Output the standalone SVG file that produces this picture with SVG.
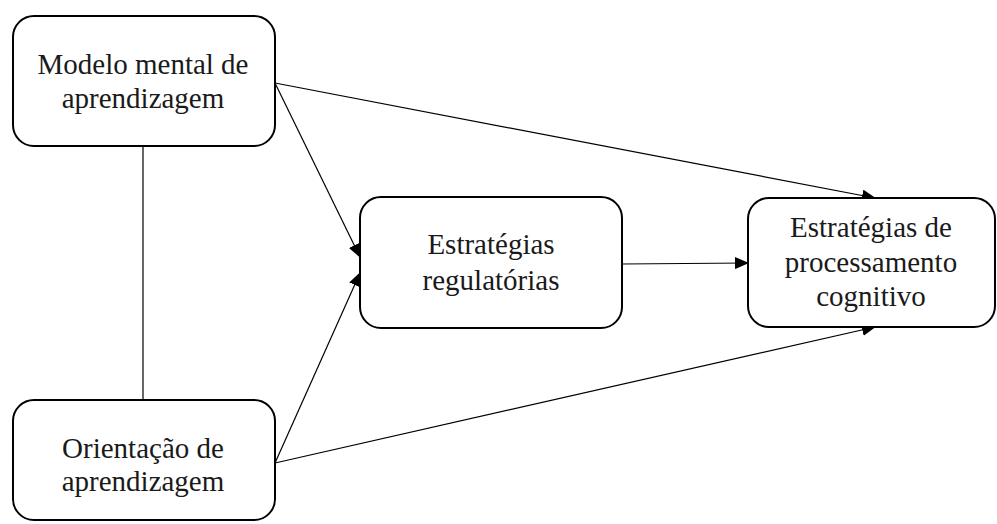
<svg xmlns="http://www.w3.org/2000/svg" width="997" height="524" viewBox="0 0 997 524">
  <style>
    .box { fill: #ffffff; stroke: #000000; stroke-width: 2; }
    .label { font-family: "Liberation Serif", "Times New Roman", serif; font-size: 29px; fill: #1a1a1a; text-anchor: middle; }
    .link { fill: none; stroke: #000000; stroke-width: 1.2; }
  </style>
  <defs>
    <marker id="arrow" markerUnits="userSpaceOnUse" markerWidth="14" markerHeight="12" refX="13" refY="6" orient="auto">
      <path d="M0,0 L14,6 L0,12 Z" fill="#000000"/>
    </marker>
  </defs>
  <rect width="997" height="524" fill="#ffffff"/>

  <g id="connectors">
    <line class="link" x1="143" y1="147" x2="143" y2="400"/>
    <line class="link" x1="275" y1="83" x2="875" y2="198" marker-end="url(#arrow)"/>
    <line class="link" x1="275" y1="83" x2="360" y2="257" marker-end="url(#arrow)"/>
    <line class="link" x1="275" y1="463" x2="360" y2="273" marker-end="url(#arrow)"/>
    <line class="link" x1="275" y1="463" x2="875" y2="327" marker-end="url(#arrow)"/>
    <line class="link" x1="622" y1="264" x2="748" y2="263" marker-end="url(#arrow)"/>
  </g>

  <g id="modelo-mental">
    <rect class="box" x="13" y="16" width="262" height="130" rx="21" ry="21"/>
    <text class="label" x="143" y="74">Modelo mental de</text>
    <text class="label" x="143" y="108">aprendizagem</text>
  </g>

  <g id="orientacao">
    <rect class="box" x="13" y="400" width="262" height="120" rx="21" ry="21"/>
    <text class="label" x="143" y="458">Orientação de</text>
    <text class="label" x="143" y="491">aprendizagem</text>
  </g>

  <g id="estrategias-regulatorias">
    <rect class="box" x="360" y="197" width="262" height="131" rx="21" ry="21"/>
    <text class="label" x="491" y="254">Estratégias</text>
    <text class="label" x="491" y="290">regulatórias</text>
  </g>

  <g id="estrategias-processamento">
    <rect class="box" x="748" y="198" width="247" height="129" rx="21" ry="21"/>
    <text class="label" x="871" y="237">Estratégias de</text>
    <text class="label" x="871" y="272">processamento</text>
    <text class="label" x="871" y="306">cognitivo</text>
  </g>
</svg>
